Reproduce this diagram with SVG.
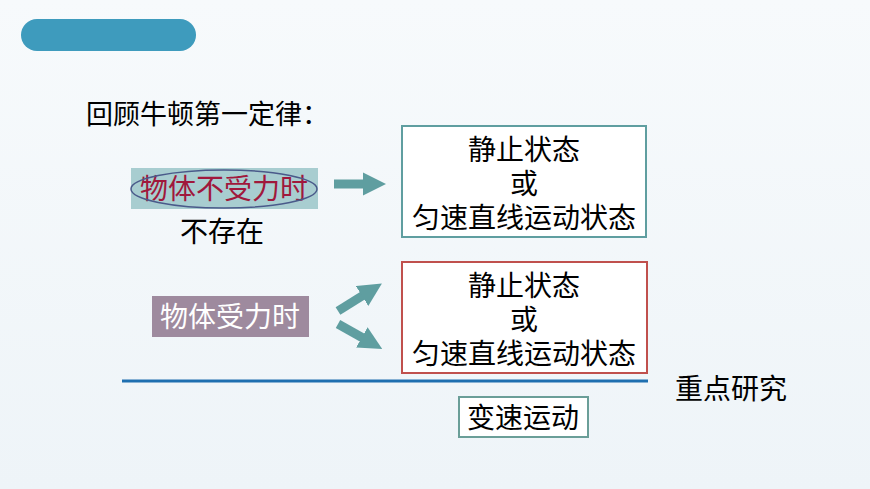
<svg xmlns="http://www.w3.org/2000/svg" width="870" height="489" viewBox="0 0 870 489">
<defs>
<linearGradient id="bg" x1="0" y1="0" x2="0" y2="1"><stop offset="0" stop-color="#f7fafc"/><stop offset="1" stop-color="#eef4f8"/></linearGradient>
<marker id="ah" viewBox="0 0 10 10" refX="4" refY="5" markerWidth="2.6" markerHeight="2.6" orient="auto"><path d="M0,0 L10,5 L0,10 Z" fill="#5f9ea0"/></marker>
</defs>
<style>
text{font-family:"Liberation Sans","Noto Sans CJK SC",sans-serif;font-size:28px;fill:#000}
.c{text-anchor:middle}
.box{fill:#fff}
.ar{stroke:#5f9ea0;stroke-width:9;fill:none;marker-end:url(#ah)}
</style>
<rect width="870" height="489" fill="url(#bg)"/>
<rect x="21" y="19" width="175" height="32" rx="16" fill="#3e9bbd"/>
<text x="86" y="124" style="font-size:27px">回顾牛顿第一定律：</text>
<g id="n1"><rect x="131" y="168" width="187" height="41" fill="#a8cdd0"/><text x="224" y="199" class="c" style="fill:#a0183c">物体不受力时</text><ellipse cx="224" cy="189" rx="93" ry="19" fill="none" stroke="#4a5a8a" stroke-width="1.5"/></g>
<text id="t1" x="222" y="242" class="c">不存在</text>
<g id="b1"><rect class="box" x="402" y="126" width="244" height="111" stroke="#5f9ea0" stroke-width="2"/><text x="524" y="160" class="c">静止状态</text><text x="524" y="194" class="c">或</text><text x="524" y="228" class="c">匀速直线运动状态</text></g>
<g id="n2"><rect x="152" y="296" width="157" height="41" fill="#9e8a9e"/><text x="230" y="327" class="c" style="fill:#fff">物体受力时</text></g>
<g id="b2"><rect class="box" x="402" y="262" width="245" height="111" stroke="#c0504d" stroke-width="2"/><text x="524" y="296" class="c">静止状态</text><text x="524" y="330" class="c">或</text><text x="524" y="364" class="c">匀速直线运动状态</text></g>
<g id="connectors">
<line class="ar" x1="334" y1="184" x2="372" y2="184"/>
<line class="ar" x1="338" y1="311" x2="370" y2="291"/>
<line class="ar" x1="338" y1="324" x2="370" y2="342"/>
<line x1="122" y1="381" x2="648" y2="381" stroke="#1f6fb0" stroke-width="3"/>
</g>
<text id="t2" x="675" y="399">重点研究</text>
<g id="b3"><rect class="box" x="459" y="397" width="129" height="40" stroke="#6a9e98" stroke-width="2"/><text x="523" y="428" class="c">变速运动</text></g>
</svg>
